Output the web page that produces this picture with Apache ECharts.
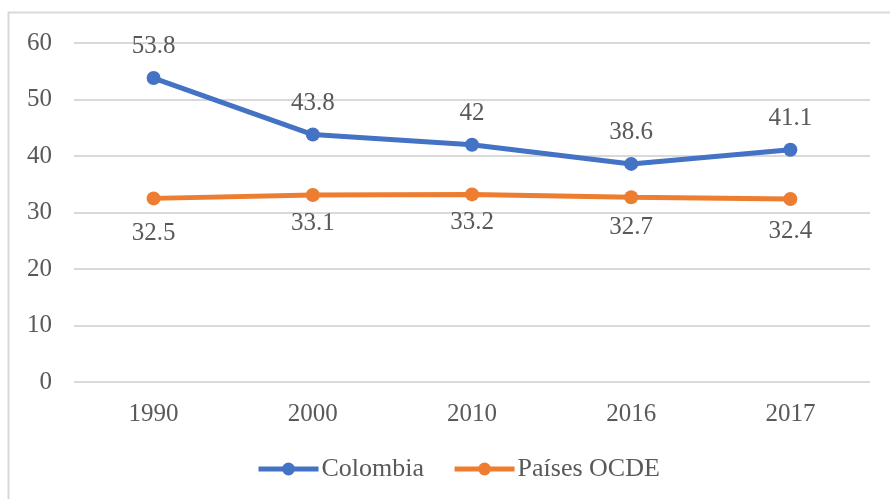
<!DOCTYPE html>
<html>
<head>
    <meta charset="utf-8">
    <title>Colombia vs Países OCDE</title>
    <script src="https://cdn.jsdelivr.net/npm/echarts@6/dist/echarts.min.js"></script>
    <style>
        html, body { margin: 0; padding: 0; background: #fff; }
    </style>
</head>
<body>
<div id="main" style="width: 890px;height: 499px"></div>

<script>
    // datos
    const years = ['1990', '2000', '2010', '2016', '2017'];
    const colombia = [53.8, 43.8, 42, 38.6, 41.1];
    const ocde = [32.5, 33.1, 33.2, 32.7, 32.4];

    // separacion de las etiquetas naranjas (en el original no son todas iguales)
    const ocdeLabelGap = [16, 9, 9, 11, 13];

    const textColor = '#595959';
    const fontFam = '"Liberation Serif", "DejaVu Serif", serif';

    var myChart = echarts.init(document.getElementById('main'));

    myChart.setOption({
        animation: false,
        textStyle: {fontFamily: fontFam},
        graphic: [{
            type: 'rect',
            shape: {x: 8.5, y: 12.5, width: 900, height: 500},
            style: {fill: 'none', stroke: '#d9d9d9', lineWidth: 2},
            silent: true
        }],
        grid: {left: 74, right: 20, top: 43, bottom: 117},
        legend: {
            top: 451,
            left: 251,
            itemWidth: 60,
            itemHeight: 16,
            itemGap: 28,
            lineStyle: {width: 5},
            textStyle: {color: textColor, fontSize: 26, fontFamily: fontFam, padding: [0, 0, 0, -2]},
            data: ['Colombia', 'Países OCDE']
        },
        xAxis: {
            type: 'category',
            data: years,
            boundaryGap: true,
            axisLine: {show: false},
            axisTick: {show: false},
            axisLabel: {color: textColor, fontSize: 25, margin: 20, fontFamily: fontFam}
        },
        yAxis: {
            type: 'value',
            min: 0,
            max: 60,
            interval: 10,
            axisLine: {show: false},
            axisTick: {show: false},
            axisLabel: {color: textColor, fontSize: 25, margin: 22, fontFamily: fontFam},
            splitLine: {lineStyle: {color: '#d9d9d9', width: 2}}
        },
        series: [
            {
                name: 'Colombia',
                type: 'line',
                data: colombia,
                symbol: 'circle',
                symbolSize: 14,
                color: '#4472C4',
                lineStyle: {width: 5, color: '#4472C4'},
                label: {
                    show: true,
                    position: 'top',
                    distance: 12,
                    color: textColor,
                    fontSize: 25,
                    fontFamily: fontFam
                }
            },
            {
                name: 'Países OCDE',
                type: 'line',
                data: ocde.map((v, i) => ({value: v, label: {distance: ocdeLabelGap[i]}})),
                symbol: 'circle',
                symbolSize: 14,
                color: '#ED7D31',
                lineStyle: {width: 5, color: '#ED7D31'},
                label: {
                    show: true,
                    position: 'bottom',
                    color: textColor,
                    fontSize: 25,
                    fontFamily: fontFam
                }
            }
        ]
    });
</script>

</body>
</html>
